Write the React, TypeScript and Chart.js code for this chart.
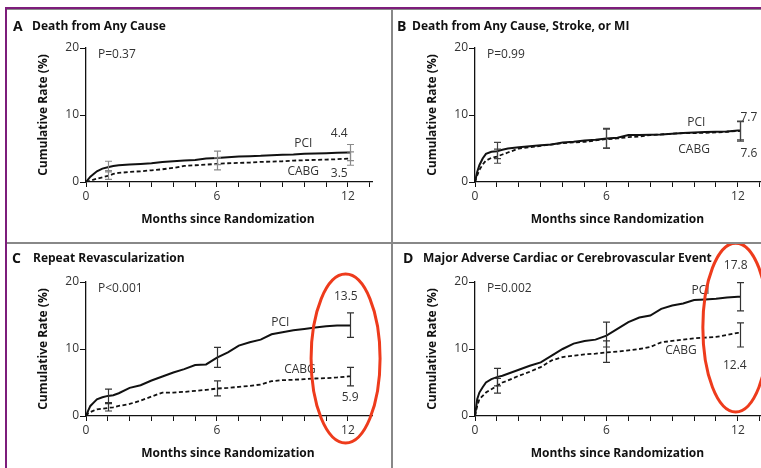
import { useEffect, useRef } from "react";
import { Chart, registerables } from "chart.js";

Chart.register(...registerables);

// Shared follow-up grid (months since randomization)
const months = [0, 0.1, 0.2, 0.35, 0.5, 0.75, 1, 1.25, 1.5, 2, 2.5, 3, 3.5, 4, 4.5, 5, 5.5, 6, 6.5, 7, 7.5, 8, 8.5, 9, 9.5, 10, 10.5, 11, 11.5, 12, 12.1];
const errorMonths = [1, 6, 12.1];
const yTickValues = [0, 10, 20];
const xLabelledTicks = [0, 6, 12];

// A: death from any cause
const deathPci = [0, 0.4, 0.8, 1.2, 1.6, 2.0, 2.2, 2.4, 2.5, 2.6, 2.7, 2.8, 3.0, 3.1, 3.2, 3.3, 3.5, 3.6, 3.7, 3.8, 3.85, 3.9, 4.0, 4.05, 4.1, 4.2, 4.25, 4.3, 4.35, 4.4, 4.4];
const deathCabg = [0, 0.1, 0.2, 0.35, 0.5, 0.7, 0.9, 1.2, 1.35, 1.5, 1.6, 1.75, 1.9, 2.1, 2.4, 2.5, 2.6, 2.7, 2.8, 2.85, 2.9, 3.0, 3.05, 3.1, 3.2, 3.25, 3.3, 3.35, 3.4, 3.5, 3.5];
const deathPciCi = [[1.5, 3.1], [2.6, 4.6], [3.2, 5.6]];
const deathCabgCi = [[0.4, 1.7], [1.8, 3.6], [2.5, 4.5]];

// B: death, stroke or MI
const compositePci = [0, 1.5, 2.5, 3.5, 4.2, 4.5, 4.6, 4.8, 5.0, 5.2, 5.35, 5.5, 5.6, 5.9, 6.0, 6.2, 6.3, 6.5, 6.6, 7.0, 7.0, 7.05, 7.1, 7.2, 7.3, 7.4, 7.45, 7.5, 7.55, 7.7, 7.7];
const compositeCabg = [0, 1.0, 1.8, 2.6, 3.2, 3.6, 3.8, 4.1, 4.4, 5.0, 5.2, 5.4, 5.6, 5.8, 5.9, 6.0, 6.2, 6.4, 6.5, 6.7, 6.8, 7.0, 7.1, 7.2, 7.3, 7.3, 7.35, 7.4, 7.5, 7.6, 7.6];
const compositePciCi = [[3.5, 5.9], [5.1, 8.0], [6.3, 9.1]];
const compositeCabgCi = [[2.8, 4.9], [5.0, 7.9], [6.1, 9.0]];

// C: repeat revascularization
const revascPci = [0, 0.8, 1.5, 2.0, 2.5, 2.8, 3.0, 3.1, 3.4, 4.2, 4.6, 5.3, 5.9, 6.5, 7.0, 7.6, 7.7, 8.7, 9.5, 10.5, 11.0, 11.4, 12.2, 12.5, 12.8, 13.0, 13.2, 13.4, 13.5, 13.5, 13.5];
const revascCabg = [0, 0.4, 0.6, 0.8, 1.0, 1.1, 1.2, 1.3, 1.5, 1.8, 2.3, 2.9, 3.5, 3.5, 3.6, 3.75, 3.9, 4.1, 4.2, 4.35, 4.5, 4.7, 5.2, 5.35, 5.4, 5.5, 5.6, 5.65, 5.75, 5.9, 5.9];
const revascPciCi = [[2.0, 4.0], [7.25, 10.25], [11.75, 15.4]];
const revascCabgCi = [[0.75, 1.85], [3.0, 5.25], [4.5, 7.25]];

// D: MACCE
const maccePci = [0, 2.5, 3.5, 4.3, 5.0, 5.5, 5.8, 6.0, 6.3, 6.9, 7.5, 8.0, 9.0, 10.0, 10.8, 11.2, 11.4, 12.0, 13.0, 14.0, 14.7, 15.0, 16.0, 16.5, 16.8, 17.3, 17.4, 17.5, 17.7, 17.8, 17.8];
const macceCabg = [0, 1.5, 2.5, 3.0, 3.5, 4.0, 4.5, 5.0, 5.3, 6.0, 6.6, 7.3, 8.3, 8.8, 9.0, 9.2, 9.3, 9.5, 9.6, 9.8, 10.0, 10.3, 11.0, 11.2, 11.4, 11.6, 11.7, 11.8, 12.1, 12.4, 12.4];
const maccePciCi = [[4.5, 7.1], [10.3, 14.0], [15.7, 19.9]];
const macceCabgCi = [[3.4, 5.6], [8.0, 11.2], [10.3, 13.9]];

const FONT = "'Open Sans', 'DejaVu Sans', sans-serif";
const INK = "#111";
const LABEL = "#333";
const RING = "#ee3b1c";

type Note = { text: string; x: number; y: number };
type Spec = {
  letter: string;
  title: string;
  pValue: string;
  pci: number[];
  cabg: number[];
  pciCi: number[][];
  cabgCi: number[][];
  notes: Note[];
  errColor: string;
  ring?: { x: number; y: number; rx: number; ry: number };
  box: { left: number; top: number; width: number; height: number };
  pad: { left: number; top: number; right: number; bottom: number };
  letterX: number;
  titleX: number;
  titleY: number;
};

const specs: Spec[] = [
  {
    letter: "A",
    title: "Death from Any Cause",
    pValue: "P=0.37",
    pci: deathPci,
    cabg: deathCabg,
    pciCi: deathPciCi,
    cabgCi: deathCabgCi,
    notes: [
      { text: "PCI", x: 9.95, y: 5.8 },
      { text: "4.4", x: 11.6, y: 7.2 },
      { text: "CABG", x: 9.95, y: 1.5 },
      { text: "3.5", x: 11.6, y: 1.25 },
    ],
    errColor: "#8a8a8a",
    box: { left: 7, top: 9, width: 385, height: 234 },
    pad: { left: 39, top: 39, right: 20, bottom: 41 },
    letterX: 6,
    titleX: 25,
    titleY: 18,
  },
  {
    letter: "B",
    title: "Death from Any Cause, Stroke, or MI",
    pValue: "P=0.99",
    pci: compositePci,
    cabg: compositeCabg,
    pciCi: compositePciCi,
    cabgCi: compositeCabgCi,
    notes: [
      { text: "PCI", x: 10.1, y: 8.8 },
      { text: "7.7", x: 12.5, y: 9.55 },
      { text: "CABG", x: 10.0, y: 4.8 },
      { text: "7.6", x: 12.5, y: 4.3 },
    ],
    errColor: "#444",
    box: { left: 393, top: 9, width: 376, height: 234 },
    pad: { left: 42, top: 39, right: 7, bottom: 41 },
    letterX: 4,
    titleX: 19,
    titleY: 18,
  },
  {
    letter: "C",
    title: "Repeat Revascularization",
    pValue: "P<0.001",
    pci: revascPci,
    cabg: revascCabg,
    pciCi: revascPciCi,
    cabgCi: revascCabgCi,
    notes: [
      { text: "13.5", x: 11.9, y: 17.8 },
      { text: "PCI", x: 8.9, y: 14.0 },
      { text: "CABG", x: 9.8, y: 7.0 },
      { text: "5.9", x: 12.1, y: 2.7 },
    ],
    errColor: "#333",
    ring: { x: 11.89, y: 8.58, rx: 1.58, ry: 12.6 },
    box: { left: 7, top: 243, width: 385, height: 225 },
    pad: { left: 39, top: 39, right: 20, bottom: 32 },
    letterX: 5,
    titleX: 26,
    titleY: 16,
  },
  {
    letter: "D",
    title: "Major Adverse Cardiac or Cerebrovascular Event",
    pValue: "P=0.002",
    pci: maccePci,
    cabg: macceCabg,
    pciCi: maccePciCi,
    cabgCi: macceCabgCi,
    notes: [
      { text: "17.8", x: 11.9, y: 22.5 },
      { text: "PCI", x: 10.3, y: 18.65 },
      { text: "CABG", x: 9.4, y: 9.7 },
      { text: "12.4", x: 11.86, y: 7.6 },
    ],
    errColor: "#333",
    ring: { x: 11.9, y: 13.2, rx: 1.5, ry: 12.6 },
    box: { left: 393, top: 243, width: 376, height: 225 },
    pad: { left: 42, top: 39, right: 7, bottom: 32 },
    letterX: 10,
    titleX: 30,
    titleY: 16,
  },
];

function Panel({ spec }: { spec: Spec }) {
  const ref = useRef<HTMLCanvasElement | null>(null);

  useEffect(() => {
    const canvas = ref.current;
    if (!canvas) return;

    const decorations = {
      id: "decorations",
      afterDatasetsDraw(chart: any) {
        const { ctx, scales } = chart;
        const xs = scales.x;
        const ys = scales.y;
        ctx.save();

        // 95% confidence bars at 1, 6 and 12 months
        ctx.strokeStyle = spec.errColor;
        ctx.lineWidth = 1.2;
        [spec.pciCi, spec.cabgCi].forEach((ci) => {
          ci.forEach(([lo, hi], i) => {
            const px = Math.round(xs.getPixelForValue(errorMonths[i])) + 0.5;
            const y1 = ys.getPixelForValue(lo);
            const y2 = ys.getPixelForValue(hi);
            ctx.beginPath();
            ctx.moveTo(px, y1);
            ctx.lineTo(px, y2);
            ctx.moveTo(px - 3.5, y1);
            ctx.lineTo(px + 3.5, y1);
            ctx.moveTo(px - 3.5, y2);
            ctx.lineTo(px + 3.5, y2);
            ctx.stroke();
          });
        });
        ctx.restore();
      },
      afterDraw(chart: any) {
        const { ctx, chartArea, scales } = chart;
        const xs = scales.x;
        const ys = scales.y;
        ctx.save();
        ctx.textBaseline = "middle";

        // panel heading
        ctx.fillStyle = INK;
        ctx.textAlign = "left";
        ctx.font = `bold 14px ${FONT}`;
        ctx.fillText(spec.letter, spec.letterX, spec.titleY);
        ctx.font = `bold 12px ${FONT}`;
        ctx.fillText(spec.title, spec.titleX, spec.titleY);

        // axis titles
        ctx.textAlign = "center";
        ctx.fillText("Months since Randomization", xs.getPixelForValue(6.5), chartArea.bottom + 38);
        ctx.save();
        ctx.translate(chartArea.left - 42, (chartArea.top + chartArea.bottom) / 2);
        ctx.rotate(-Math.PI / 2);
        ctx.fillText("Cumulative Rate (%)", 0, 0);
        ctx.restore();

        // p-value and curve labels
        ctx.fillStyle = LABEL;
        ctx.font = `12px ${FONT}`;
        ctx.textAlign = "left";
        ctx.fillText(spec.pValue, chartArea.left + 12, chartArea.top + 7);
        ctx.textAlign = "center";
        spec.notes.forEach((n) => {
          ctx.fillText(n.text, xs.getPixelForValue(n.x), ys.getPixelForValue(n.y));
        });

        // highlight ring around the 12-month estimates
        if (spec.ring) {
          const r = spec.ring;
          const cx = xs.getPixelForValue(r.x);
          const cy = ys.getPixelForValue(r.y);
          const rx = Math.abs(xs.getPixelForValue(r.x + r.rx) - cx);
          const ry = Math.abs(ys.getPixelForValue(r.y + r.ry) - cy);
          ctx.strokeStyle = RING;
          ctx.lineWidth = 3;
          ctx.beginPath();
          ctx.ellipse(cx, cy, rx, ry, 0, 0, Math.PI * 2);
          ctx.stroke();
        }
        ctx.restore();
      },
    };

    const chart = new Chart(canvas, {
      type: "line",
      data: {
        datasets: [
          {
            label: "PCI",
            data: months.map((m, i) => ({ x: m, y: spec.pci[i] })),
            borderColor: INK,
            borderWidth: 2,
            tension: 0,
            pointRadius: 0,
            fill: false,
          },
          {
            label: "CABG",
            data: months.map((m, i) => ({ x: m, y: spec.cabg[i] })),
            borderColor: INK,
            borderWidth: 1.8,
            borderDash: [4, 2.5],
            tension: 0,
            pointRadius: 0,
            fill: false,
          },
        ],
      },
      options: {
        responsive: false,
        animation: false,
        devicePixelRatio: 1,
        layout: { padding: spec.pad },
        plugins: {
          legend: { display: false },
          tooltip: { enabled: false },
        },
        scales: {
          x: {
            type: "linear",
            min: 0,
            max: 13.1,
            afterFit: (s: any) => {
              s.height = 20;
            },
            border: { display: true, color: INK, width: 1.3 },
            grid: { drawOnChartArea: false, drawTicks: true, tickLength: 5, color: INK, lineWidth: 1 },
            ticks: {
              stepSize: 1,
              autoSkip: false,
              includeBounds: false,
              maxRotation: 0,
              padding: 2,
              color: LABEL,
              font: { family: FONT, size: 12 },
              callback: (v: any) => (xLabelledTicks.includes(Number(v)) ? String(v) : ""),
            },
          },
          y: {
            type: "linear",
            min: 0,
            max: 20,
            afterFit: (s: any) => {
              s.width = 40;
            },
            afterBuildTicks: (s: any) => {
              s.ticks = yTickValues.map((v) => ({ value: v }));
            },
            border: { display: true, color: INK, width: 1.3 },
            grid: { drawOnChartArea: false, drawTicks: true, tickLength: 6, color: INK, lineWidth: 1 },
            ticks: {
              padding: 1,
              color: LABEL,
              font: { family: FONT, size: 12 },
            },
          },
        },
      },
      plugins: [decorations],
    });

    return () => chart.destroy();
  }, [spec]);

  const b = spec.box;
  return (
    <canvas
      ref={ref}
      width={b.width}
      height={b.height}
      style={{ position: "absolute", left: b.left, top: b.top, width: b.width, height: b.height }}
    />
  );
}

export default function App() {
  return (
    <div
      style={{
        position: "fixed",
        left: 0,
        top: 0,
        width: 761,
        height: 468,
        overflow: "hidden",
        background: "#fff",
      }}
    >
      {specs.map((s) => (
        <Panel key={s.letter} spec={s} />
      ))}
      {/* frame and panel dividers */}
      <div style={{ position: "absolute", left: 5, top: 7, width: 756, height: 2, background: "#7d1d7b" }} />
      <div style={{ position: "absolute", left: 7, top: 9, width: 754, height: 1, background: "#8a8a8a" }} />
      <div style={{ position: "absolute", left: 5, top: 7, width: 2, height: 461, background: "#7d1d7b" }} />
      <div style={{ position: "absolute", left: 391, top: 9, width: 2, height: 459, background: "#888" }} />
      <div style={{ position: "absolute", left: 7, top: 242, width: 754, height: 2, background: "#888" }} />
    </div>
  );
}
